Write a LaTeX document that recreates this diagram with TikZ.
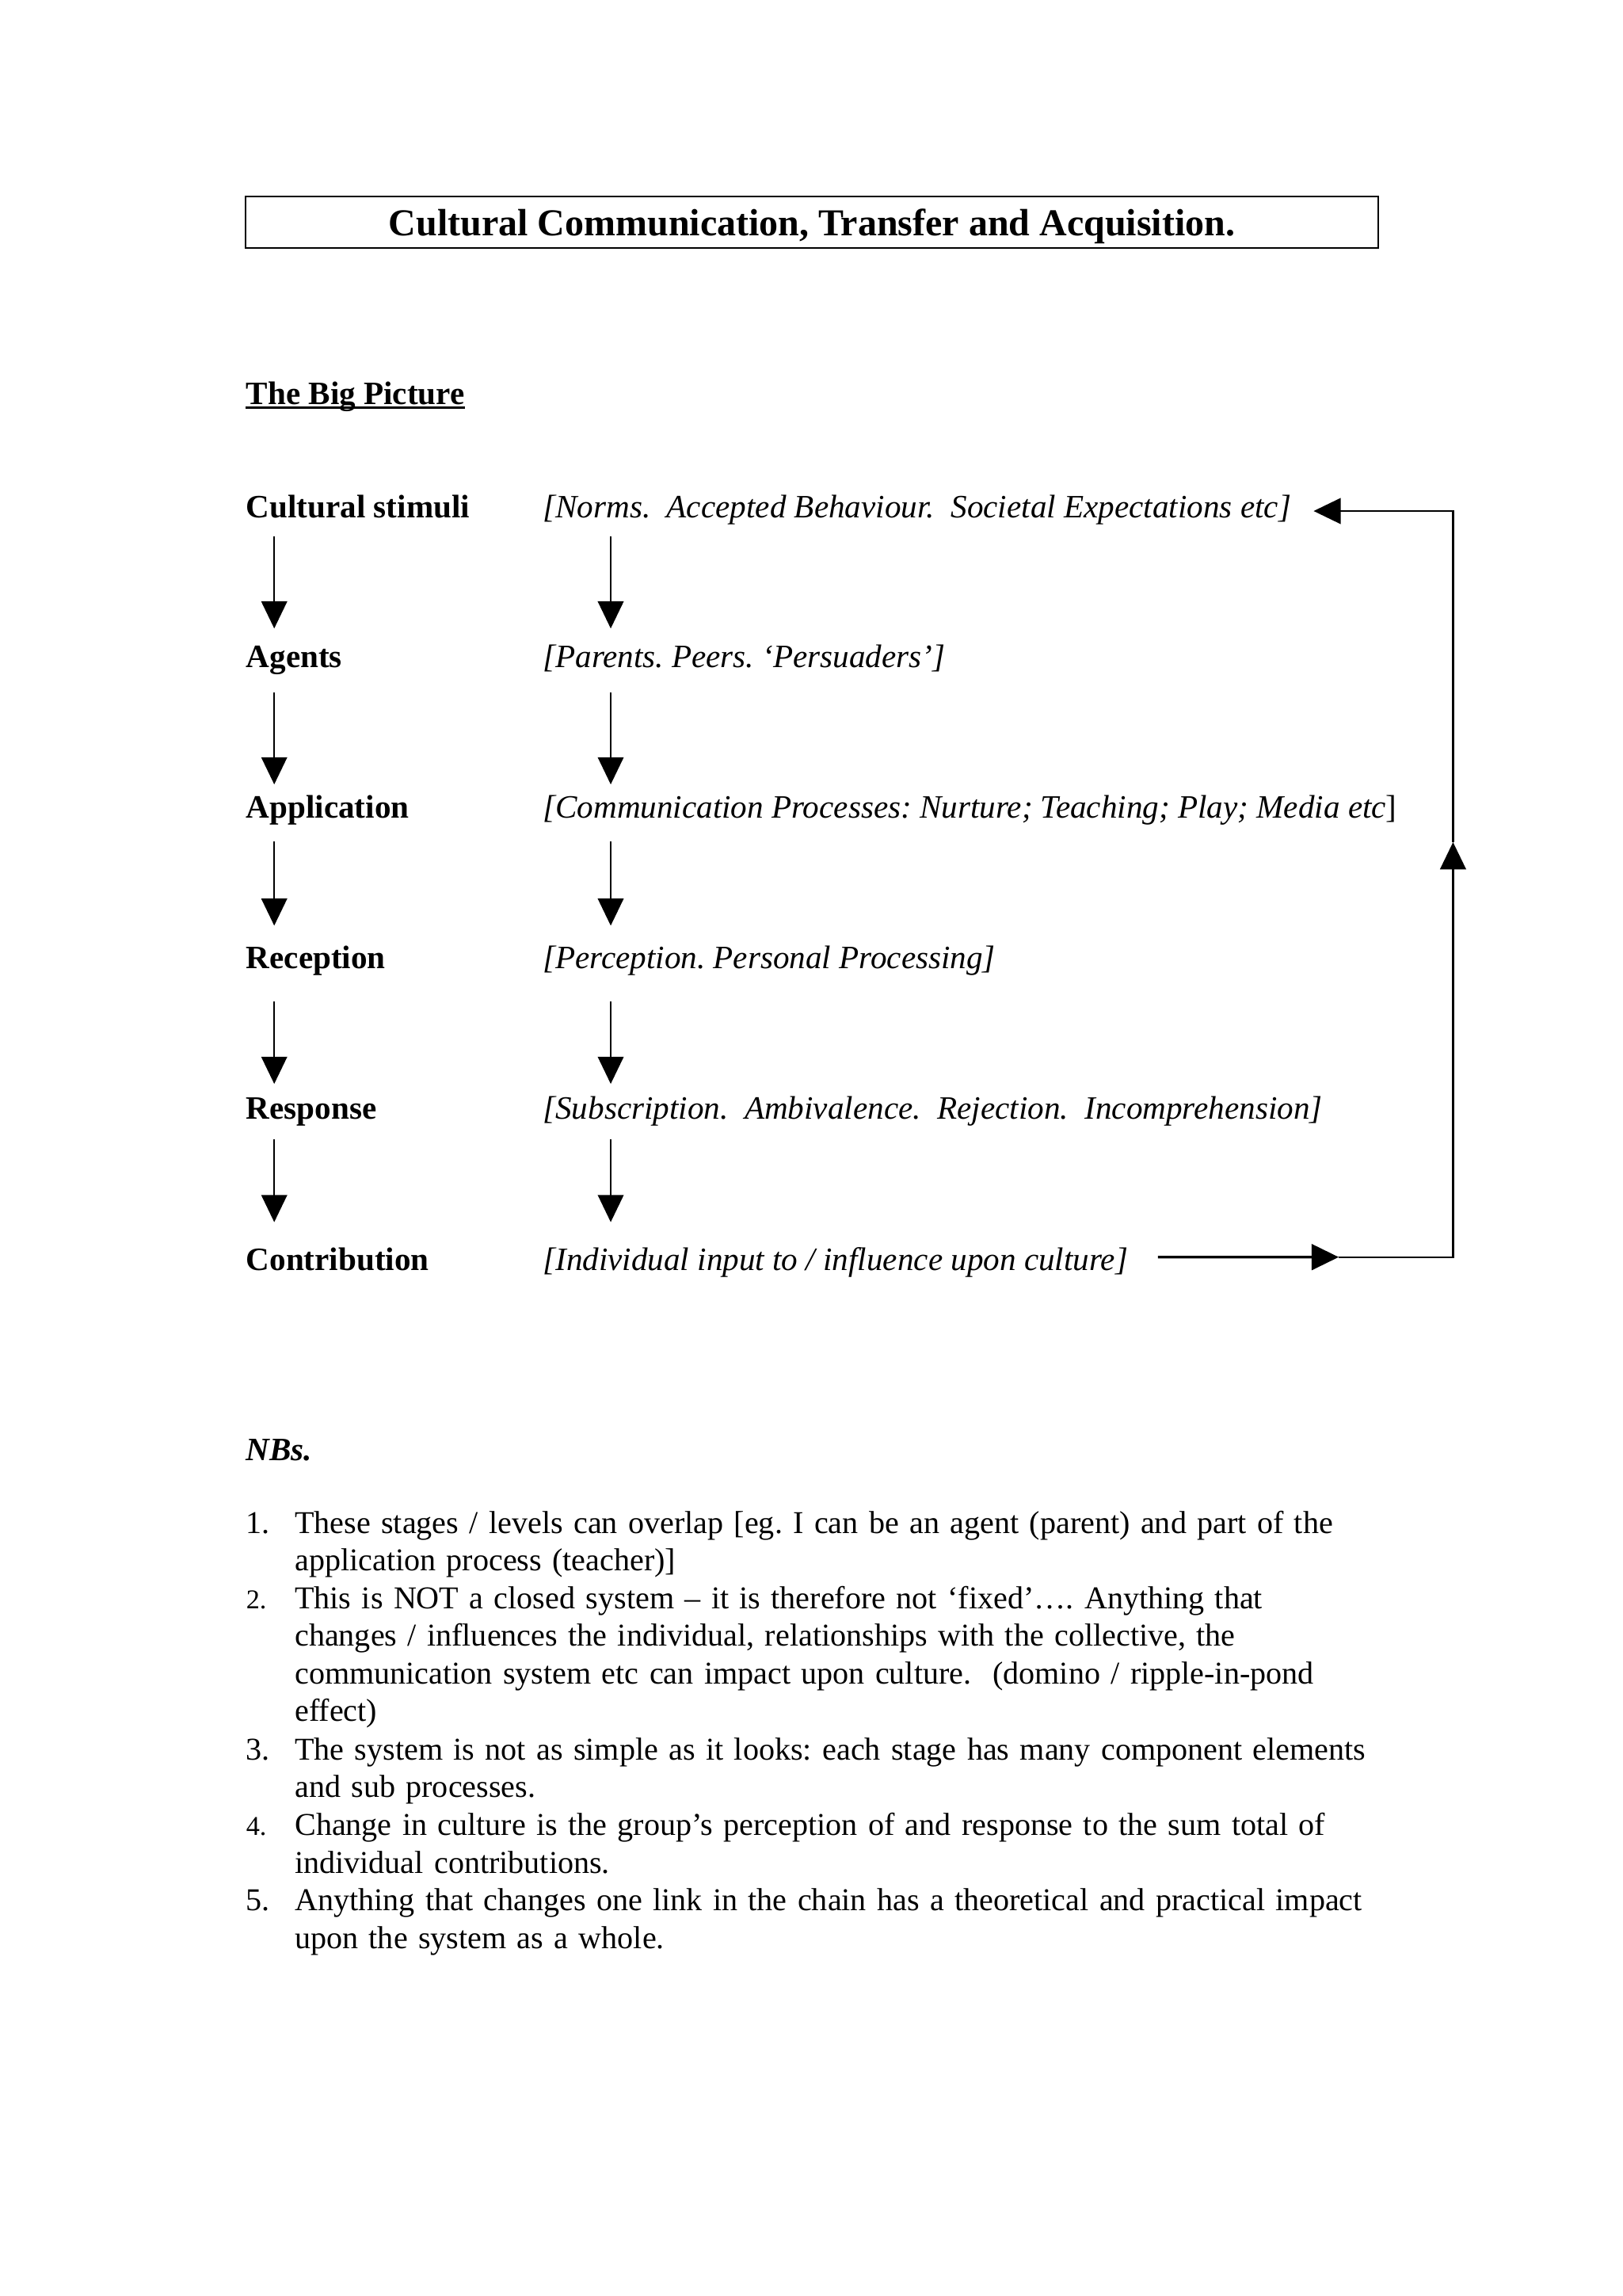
\documentclass[tikz,border=0pt]{standalone}
\usepackage{fontspec}
\setmainfont{Liberation Serif}
\usetikzlibrary{arrows.meta}
\newcommand{\bodysize}{\fontsize{12pt}{13.86pt}\selectfont\frenchspacing}
\newcommand{\notesize}{\fontsize{11.7pt}{13.86pt}\selectfont\frenchspacing}

\begin{document}
\begin{tikzpicture}[>=Latex,
    stage/.style={anchor=base west, inner sep=0pt, font=\bodysize\bfseries},
    detail/.style={anchor=base west, inner sep=0pt, font=\bodysize\itshape},
    note/.style={anchor=base west, inner sep=0pt, font=\notesize, text width=14.5cm, align=left},
    num/.style={anchor=base west, inner sep=0pt, font=\notesize},
    down/.style={-{Triangle[length=10pt, width=9.5pt]}, line width=0.6pt},
    feedback/.style={line width=0.7pt},
    fbhead/.style={feedback, -{Triangle[length=10pt, width=9.5pt]}},
]
\useasboundingbox (0,0) rectangle (21,-29.716);

% ================= title =================
\node[draw, line width=0.6pt, minimum width=14.66cm, minimum height=0.67cm, inner sep=0pt] (titlebox) at (10.51,-2.875) {};
\node[anchor=base, inner sep=0pt, font=\fontsize{14pt}{16pt}\selectfont\bfseries] (title)
    at ([yshift=-0.18cm]titlebox.center) {Cultural Communication, Transfer and Acquisition.};

\node[stage] (bigpic) at (3.18,-5.23) {The Big Picture};
\draw[line width=0.7pt] ([yshift=-1.3pt]bigpic.base west) -- ([yshift=-1.3pt]bigpic.base east);

% ================= stages =================
\node[stage] (cs) at (3.18,-6.696) {Cultural stimuli};
\node[stage] (ag) at (3.18,-8.644) {Agents};
\node[stage] (ap) at (3.18,-10.592) {Application};
\node[stage] (rc) at (3.18,-12.540) {Reception};
\node[stage] (rs) at (3.18,-14.488) {Response};
\node[stage] (ct) at (3.18,-16.437) {Contribution};

\node[detail] (cs-d) at (7.02,-6.696) {[Norms.\ \ Accepted Behaviour.\ \ Societal Expectations etc]};
\node[detail] (ag-d) at (7.02,-8.644) {[Parents. Peers. ‘Persuaders’]};
\node[detail] (ap-d) at (7.02,-10.592) {[Communication Processes: Nurture; Teaching; Play; Media etc\upshape]};
\node[detail] (rc-d) at (7.02,-12.540) {[Perception. Personal Processing]};
\node[detail] (rs-d) at (7.02,-14.488) {[Subscription.\ \ Ambivalence.\ \ Rejection.\ \ Incomprehension]};
\node[detail] (ct-d) at (7.02,-16.437) {[Individual input to / influence upon culture]};

\foreach \a/\b/\s/\e in {cs/ag/0.25/0.51, ag/ap/0.32/0.44, ap/rc/0.30/0.56, rc/rs/0.42/0.46, rs/ct/0.26/0.62}{
    \draw[down] ([xshift=0.37cm, yshift=-\s cm]\a.base west) -- ([xshift=0.37cm, yshift=\e cm]\b.base west);
    \draw[down] ([xshift=0.886cm, yshift=-\s cm]\a-d.base west) -- ([xshift=0.886cm, yshift=\e cm]\b-d.base west);
}

% ================= feedback loop =================
\coordinate (fb-in) at (17.33,-16.27);
\coordinate (fb-se) at (18.81,-16.27);
\coordinate (fb-mid) at (18.81,-10.90);
\coordinate (fb-ne) at (18.81,-6.614);

\draw[fbhead, line width=1pt] ([xshift=0.38cm, yshift=0.167cm]ct-d.base east) -- (fb-in);
\draw[fbhead] (fb-in) -- (fb-se) -- (fb-mid);
\draw[fbhead] (fb-mid) -- (fb-ne) -- ([xshift=0.285cm, yshift=0.082cm]cs-d.base east);

% ================= notes =================
\node[stage, font=\bodysize\bfseries\itshape] (nbs) at (3.18,-18.90) {NBs.};

\node[num] (n1) at (3.18,-19.842) {1.};
\node[note] (t1) at (3.81,-19.842) {These stages / levels can overlap [eg. I can be an agent (parent) and part of the\\
    application process (teacher)]};
\node[num, font=\fontsize{10pt}{12pt}\selectfont] (n2) at (3.18,-20.820) {2.};
\node[note] (t2) at (3.81,-20.820) {This is NOT a closed system – it is therefore not ‘fixed’…. Anything that\\
    changes / influences the individual, relationships with the collective, the\\
    communication system etc can impact upon culture.\ \ (domino / ripple-in-pond\\
    effect)};
\node[num] (n3) at (3.18,-22.775) {3.};
\node[note] (t3) at (3.81,-22.775) {The system is not as simple as it looks: each stage has many component elements\\
    and sub processes.};
\node[num, font=\fontsize{10pt}{12pt}\selectfont] (n4) at (3.18,-23.753) {4.};
\node[note] (t4) at (3.81,-23.753) {Change in culture is the group’s perception of and response to the sum total of\\
    individual contributions.};
\node[num] (n5) at (3.18,-24.731) {5.};
\node[note] (t5) at (3.81,-24.731) {Anything that changes one link in the chain has a theoretical and practical impact\\
    upon the system as a whole.};

\end{tikzpicture}
\end{document}
